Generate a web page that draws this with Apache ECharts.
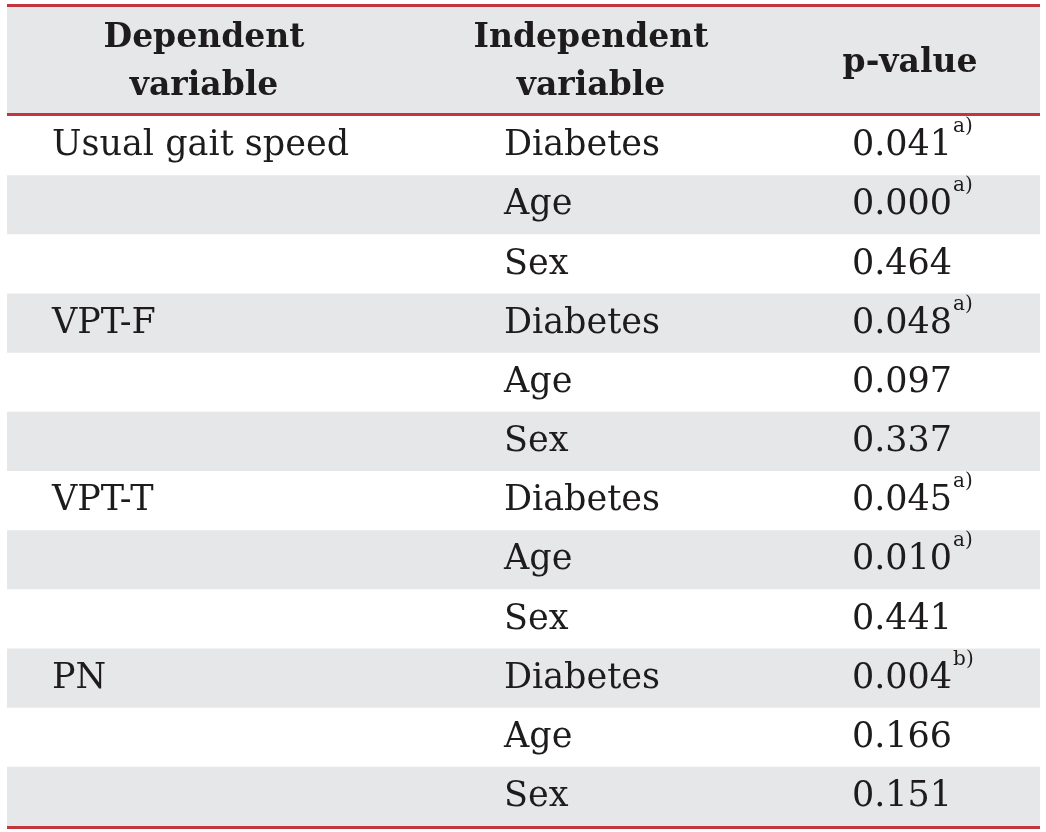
<!DOCTYPE html>
<html>
<head>
<meta charset="utf-8">
<script src="https://cdn.jsdelivr.net/npm/echarts@6/dist/echarts.min.js"></script>
<style>
html,body{margin:0;padding:0;background:#fff;}
#chart{width:1046px;height:832px;}
</style>
</head>
<body>
<div id="chart"></div>
<script>
// ---- table data ----
const headers = ['Dependent\nvariable', 'Independent\nvariable', 'p-value'];
const dependentVar = ['Usual gait speed', '', '', 'VPT-F', '', '', 'VPT-T', '', '', 'PN', '', ''];
const independentVar = ['Diabetes', 'Age', 'Sex', 'Diabetes', 'Age', 'Sex', 'Diabetes', 'Age', 'Sex', 'Diabetes', 'Age', 'Sex'];
const pValues = ['0.041', '0.000', '0.464', '0.048', '0.097', '0.337', '0.045', '0.010', '0.441', '0.004', '0.166', '0.151'];
const footnotes = ['a)', 'a)', '', 'a)', '', '', 'a)', 'a)', '', 'b)', '', ''];

const rowIdx = pValues.map((_, i) => String(i));
const RED = '#c3353c', GRAY = '#e6e7e8', INK = '#1e1b1c';
const FONT = '"DejaVu Serif", serif';
const BODY_FONT = '35px ' + FONT;
const SUP_FONT = '20px ' + FONT;
const HEAD_FONT = 'bold 33px ' + FONT;

const ctx = document.createElement('canvas').getContext('2d');
ctx.font = BODY_FONT;
function textWidth(t) { return ctx.measureText(t).width; }

const chart = echarts.init(document.getElementById('chart'), null, {renderer: 'canvas'});

const option = {
  animation: false,
  backgroundColor: '#ffffff',
  grid: {left: 7, right: 6, top: 116, bottom: 6},
  xAxis: {type: 'value', min: 7, max: 1040, show: false},
  yAxis: {type: 'category', data: rowIdx, inverse: true, show: false},
  graphic: [
    {type: 'rect', shape: {x: 7, y: 6, width: 1033, height: 108}, style: {fill: GRAY}, z: 0},
    {type: 'line', shape: {x1: 7, y1: 5.5, x2: 1040, y2: 5.5}, style: {stroke: RED, lineWidth: 3}, z: 10},
    {type: 'line', shape: {x1: 7, y1: 114.5, x2: 1040, y2: 114.5}, style: {stroke: RED, lineWidth: 3}, z: 10},
    {type: 'line', shape: {x1: 7, y1: 827.5, x2: 1040, y2: 827.5}, style: {stroke: RED, lineWidth: 3}, z: 10},
    {type: 'text', x: 204, y: 62, z: 10, style: {text: headers[0], font: HEAD_FONT, fill: INK, align: 'center', verticalAlign: 'middle', lineHeight: 48}},
    {type: 'text', x: 591, y: 62, z: 10, style: {text: headers[1], font: HEAD_FONT, fill: INK, align: 'center', verticalAlign: 'middle', lineHeight: 48}},
    {type: 'text', x: 910, y: 63, z: 10, style: {text: headers[2], font: HEAD_FONT, fill: INK, align: 'center', verticalAlign: 'middle'}}
  ],
  series: [{
    type: 'custom',
    coordinateSystem: 'cartesian2d',
    data: rowIdx.map((r, i) => [7, i]),
    clip: false,
    renderItem: function (params, api) {
      const i = params.dataIndex;
      const c = api.coord([7, i]);
      const h = api.size([0, 1])[1];
      const xr = api.coord([1040, i])[0];
      const cy = c[1] + 0.5;
      const children = [];
      if (i % 2 === 1) {
        children.push({type: 'rect', shape: {x: c[0], y: c[1] - h / 2, width: xr - c[0], height: h}, style: {fill: GRAY}});
      }
      if (dependentVar[i]) {
        children.push({type: 'text', x: api.coord([52, i])[0], y: cy, style: {text: dependentVar[i], font: BODY_FONT, fill: INK, align: 'left', verticalAlign: 'middle'}});
      }
      children.push({type: 'text', x: api.coord([504, i])[0], y: cy, style: {text: independentVar[i], font: BODY_FONT, fill: INK, align: 'left', verticalAlign: 'middle'}});
      const w = textWidth(pValues[i]);
      const nx = api.coord([902, i])[0] - w / 2;
      children.push({type: 'text', x: nx, y: cy, style: {text: pValues[i], font: BODY_FONT, fill: INK, align: 'left', verticalAlign: 'middle'}});
      if (footnotes[i]) {
        children.push({type: 'text', x: nx + w + 1, y: cy - 19, style: {text: footnotes[i], font: SUP_FONT, fill: INK, align: 'left', verticalAlign: 'middle'}});
      }
      return {type: 'group', children: children};
    }
  }]
};
chart.setOption(option);
</script>
</body>
</html>
